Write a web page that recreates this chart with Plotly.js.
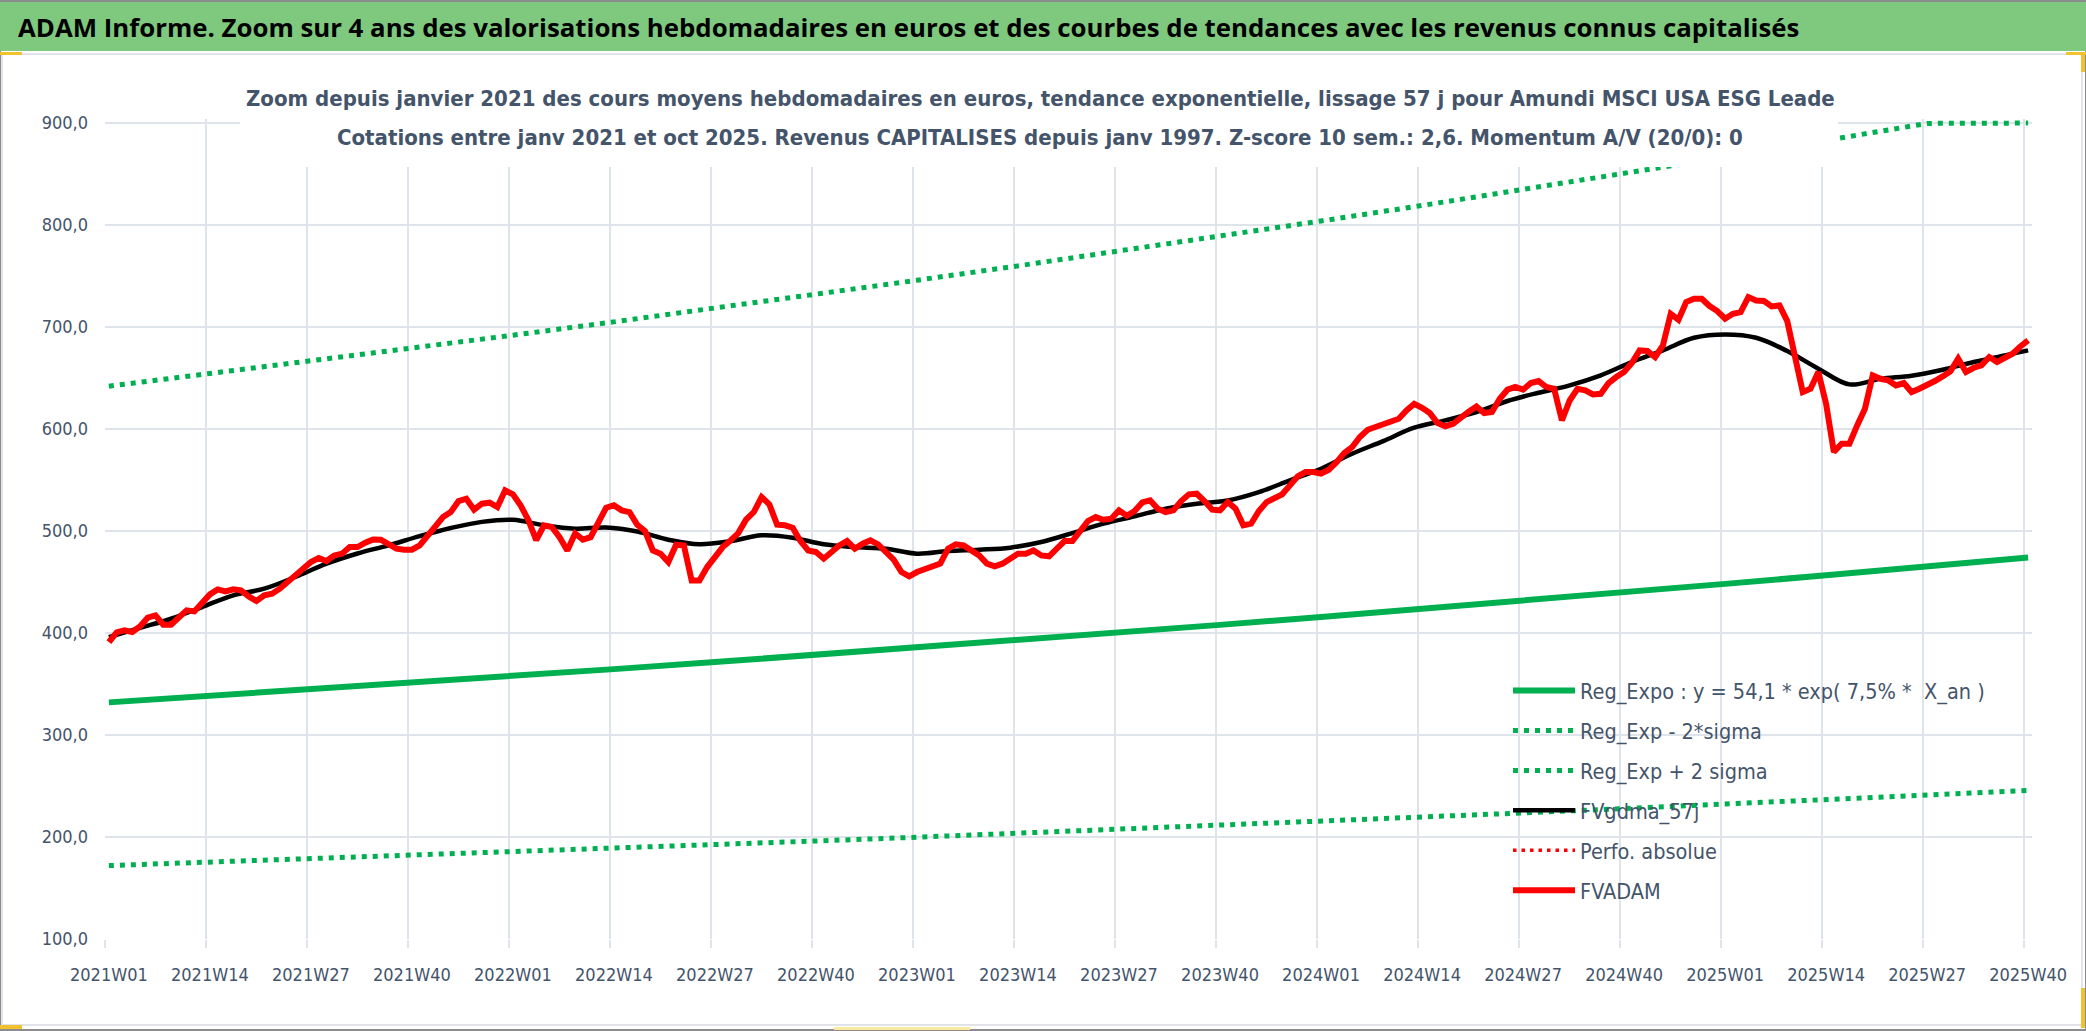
<!DOCTYPE html>
<html>
<head>
<meta charset="utf-8">
<script src="https://cdn.plot.ly/plotly-3.0.1.min.js"></script>
<style>
  html, body { margin: 0; padding: 0; background: #fff; }
  #chart { width: 2086px; height: 1031px; }
</style>
</head>
<body>
<div id="chart"></div>
<script>
// semaines 2021W01 .. 2025W40 (axe de categories)
const years = [2021, 2022, 2023, 2024, 2025];
const lastWeek2025 = 40;
const weeks = [];
years.forEach((y) => {
  const nb = y === 2025 ? lastWeek2025 : 52;
  for (let w = 1; w <= nb; w++) weeks.push(y + "W" + String(w).padStart(2, "0"));
});

// FVADAM : cours moyens hebdo en euros
const fvadam = [
  391, 400.7, 402.6, 401, 406.5, 415, 417.3, 408.2, 408.2, 415.7,
  422.2, 421.2, 430.4, 437.9, 442.8, 440.8, 442.8, 441.8, 435.9, 431.4,
  436.9, 438.6, 443.5, 450, 456.5, 464.7, 469.6, 473.5, 470.6, 476.1,
  477.8, 484.3, 484.3, 488.6, 491.8, 491.5, 487.6, 482.7, 481.7, 481.7,
  485.9, 495.8, 504.6, 513.7, 518.6, 529.4, 531.7, 520.9, 526.8, 527.8,
  523.5, 539.9, 536, 525, 510.5, 491, 505.6, 504, 494, 481,
  497.6, 491.5,
  494, 508.8, 522.9, 525.2, 520.3, 518.6, 506.2, 500,
  481, 477.8, 469.6, 486.6, 485.9, 451.6, 451.6, 464.7, 475.2, 484.3,
  490.8, 498, 511.1, 518.6, 533.3, 526.1, 506.2, 505.6, 503.3, 490.2,
  481, 479.4, 472.9, 479.4, 485.9, 490.2, 482.7, 487.6, 490.8, 486.9,
  479.4, 471.9, 459.8, 455.6, 459.8, 462.7, 464.7, 468, 482.7, 486.9,
  485.9, 480.4, 476.1, 468, 465.4, 468, 472.5, 477.8, 477.8, 481,
  476.1, 475.2, 482.7, 490.2,
  490.2, 500, 509.8, 513.7, 511.1, 512.1,
  520.3, 515, 519.6, 528.1, 530, 521.9, 518.6, 520.3, 529.4, 536,
  536.6, 529.4, 520.9, 520.3, 528.4, 521.9, 505.6, 507.2, 519.6, 528.4,
  531.7, 536, 544.8, 553.6, 557.8, 557.8, 556.2, 560.1, 567.6, 576.5,
  582.4, 592.2, 599.3, 602, 605.9, 607.8, 610.1, 618.3, 624.8, 620.9,
  615.7, 605.9, 602.6, 605.2, 611.8, 617, 622.2, 615.7, 616.7, 629.7,
  638.6, 641.2, 638.6, 645.1, 647.1,
  641.2, 639.5, 608.5, 628, 639.5,
  637.9, 634, 634.6, 645.1, 651, 655.9, 664.7, 677.1, 676.5, 670.6,
  682, 713, 707.2, 724.5, 727.8, 727.8, 720.6, 715.7, 708.2, 713,
  714.7, 729.4, 726.1, 725.5, 720.3, 721.2, 705.9, 673.9, 636.3, 639.5,
  655.9, 624.8, 577.5, 585.6, 585.6, 603.6, 619.9, 652.6, 649.3, 647.7,
  642.8, 645.1, 636.3, 639.5, 642.8, 647.1, 651.6, 656.5, 669, 655.9,
  660.1, 662.4, 670.6, 665.7, 669.9, 673.9, 681, 686.9
];

// FVgdma_57j : lissage, lu toutes les 4 semaines
const gdmaIdx = [0, 4, 8, 12, 16, 20, 24, 28, 32, 36, 40, 44, 48, 52, 56, 60,
  64, 68, 72, 76, 80, 84, 88, 92, 96, 100, 104, 108, 112, 116, 120, 124,
  128, 132, 136, 140, 144, 148, 152, 156, 160, 164, 168, 172, 176, 180, 184,
  188, 192, 196, 200, 204, 208, 212, 216, 220, 224, 228, 232, 236, 240, 244, 247];
const gdmaVal = [396, 405, 414, 425.5, 437, 443.5, 455, 468, 478, 486, 495, 503, 509, 511, 505.6, 502.3,
  503.5, 499.5, 491.5, 487, 490, 495.8, 493.5, 487, 484.3, 482.7, 477.8, 480.4, 481.7, 483.7, 489.2, 498,
  507.2, 514.4, 521.9, 526.8, 530, 538.2, 549.7, 561.1, 575.8, 588.2, 601.3, 608.5, 616.7, 627.5, 635.6,
  642.8, 652.6, 665.7, 677.1, 689.5, 692.8, 689.5, 676.5, 659.2, 643.8, 649.3, 652.3, 658.2, 665.7, 672.2, 677.1];

// tendances exponentielles, lues aux graduations (toutes les 13 semaines)
const trendIdx = [0, 13, 26, 39, 52, 65, 78, 91, 104, 117, 130, 143, 156, 169, 182, 195, 208, 221, 234, 247];
const regExpo = [332, 338.3, 344.7, 351.2, 357.9, 364.6, 371.5, 378.6, 385.7, 393, 400.5, 408, 415.8, 423.6, 431.7, 439.8, 448.2, 456.6, 465.3, 474.1];
const regMoins = [172, 175.3, 178.6, 182, 185.4, 188.9, 192.5, 196.1, 199.8, 203.6, 207.5, 211.4, 215.4, 219.5, 223.6, 227.9, 232.2, 236.6, 241, 245.6];
const regPlus = [642, 654.2, 666.5, 679.1, 692, 705.1, 718.4, 732, 745.9, 760, 774.4, 789.1, 804, 819.2, 834.7, 850.5, 866.6, 883, 899.7, 900];
const perfoAbsolue = [null]; // hors echelle sur ce zoom : legende seule

const yTicks = [100, 200, 300, 400, 500, 600, 700, 800, 900];

const FONT = '"Liberation Sans Narrow", "DejaVu Sans Condensed", "Liberation Sans", sans-serif';
const TXT = "#44546A";
const GREEN = "#00B050";
const GRID = "#DFE3EA";

const W = 2086, H = 1031;
const M = { l: 105, r: 54, t: 119, b: 92 };
const plotW = W - M.l - M.r, plotH = H - M.t - M.b;
const px = (x) => (x - M.l) / plotW;
const py = (y) => (H - M.b - y) / plotH;

const at = (idx) => idx.map((i) => weeks[i]);

var data = [
  { x: at(trendIdx), y: regExpo, type: "scatter", mode: "lines", name: "Reg_Expo : y = 54,1 * exp( 7,5% *  X_an )",
    line: { color: GREEN, width: 6 }, legendgroup: "a" },
  { x: at(trendIdx), y: regMoins, type: "scatter", mode: "lines", name: "Reg_Exp - 2*sigma",
    line: { color: GREEN, width: 5, dash: "5px,6px" }, legendgroup: "b" },
  { x: at(trendIdx), y: regPlus, type: "scatter", mode: "lines", name: "Reg_Exp + 2 sigma",
    line: { color: GREEN, width: 5, dash: "5px,6px" }, legendgroup: "c" },
  { x: at(gdmaIdx), y: gdmaVal, type: "scatter", mode: "lines", name: "FVgdma_57j",
    line: { color: "#000000", width: 4.5, shape: "spline" }, legendgroup: "d" },
  { x: weeks.slice(0, perfoAbsolue.length), y: perfoAbsolue, type: "scatter", mode: "lines", name: "Perfo. absolue",
    line: { color: "#FF0000", width: 3.5, dash: "3.5px,5px" }, legendgroup: "e" },
  { x: weeks, y: fvadam, type: "scatter", mode: "lines", name: "FVADAM",
    line: { color: "#FF0000", width: 6 }, legendgroup: "f" }
];

var shapes = [
  // cadre de la page
  { type: "rect", xref: "paper", yref: "paper", x0: px(0), x1: px(W), y0: py(H - 1), y1: py(1),
    line: { color: "#8C8C8C", width: 2 }, fillcolor: "rgba(0,0,0,0)", layer: "below" },
  // bandeau vert
  { type: "rect", xref: "paper", yref: "paper", x0: px(0), x1: px(W), y0: py(51), y1: py(2),
    line: { width: 0 }, fillcolor: "#7EC97E", layer: "below" },
  // cadre du graphique
  { type: "rect", xref: "paper", yref: "paper", x0: px(2), x1: px(2082), y0: py(1025), y1: py(54),
    line: { color: "#E1E3E8", width: 2 }, fillcolor: "rgba(0,0,0,0)", layer: "below" },
  // poignees jaunes
  { type: "rect", xref: "paper", yref: "paper", x0: px(0), x1: px(22), y0: py(55), y1: py(52),
    line: { width: 0 }, fillcolor: "#F2C12E", layer: "above" },
  { type: "rect", xref: "paper", yref: "paper", x0: px(2066), x1: px(2086), y0: py(55), y1: py(52),
    line: { width: 0 }, fillcolor: "#F2C12E", layer: "above" },
  { type: "rect", xref: "paper", yref: "paper", x0: px(2081), x1: px(2085), y0: py(72), y1: py(52),
    line: { width: 0 }, fillcolor: "#F2C12E", layer: "above" },
  { type: "rect", xref: "paper", yref: "paper", x0: px(2081), x1: px(2085), y0: py(1028), y1: py(988),
    line: { width: 0 }, fillcolor: "#F2C12E", layer: "above" },
  { type: "rect", xref: "paper", yref: "paper", x0: px(0), x1: px(22), y0: py(1029), y1: py(1025),
    line: { width: 0 }, fillcolor: "#F2C12E", layer: "above" },
  { type: "rect", xref: "paper", yref: "paper", x0: px(834), x1: px(970), y0: py(1030), y1: py(1027),
    line: { width: 0 }, fillcolor: "#F7EBA0", layer: "above" },
  // fond blanc du titre du graphique (masque courbes et grille)
  { type: "rect", xref: "paper", yref: "paper", x0: px(240), x1: px(1838), y0: py(167), y1: py(70),
    line: { width: 0 }, fillcolor: "#FFFFFF", layer: "above" }
];

var annotations = [
  { xref: "paper", yref: "paper", x: px(16), y: py(27), xanchor: "left", yanchor: "middle", showarrow: false,
    text: "<b>ADAM Informe. Zoom sur 4 ans des valorisations hebdomadaires en euros et des courbes de tendances avec les revenus connus capitalisés</b>",
    font: { family: '"Open Sans", "Liberation Sans", sans-serif', size: 25.8, color: "#000000" } },
  { xref: "paper", yref: "paper", x: px(1040), y: py(99), xanchor: "center", yanchor: "middle", showarrow: false,
    text: "<b>Zoom depuis janvier 2021 des cours moyens hebdomadaires en euros, tendance exponentielle, lissage 57 j pour Amundi MSCI USA ESG Leade</b>",
    font: { family: FONT, size: 22, color: TXT } },
  { xref: "paper", yref: "paper", x: px(1040), y: py(137), xanchor: "center", yanchor: "middle", showarrow: false,
    text: "<b>Cotations entre janv 2021 et oct 2025. Revenus CAPITALISES depuis janv 1997. Z-score 10 sem.: 2,6. Momentum A/V (20/0): 0</b>",
    font: { family: FONT, size: 22, color: TXT } }
];

var layout = {
  width: W,
  height: H,
  margin: M,
  paper_bgcolor: "#FFFFFF",
  plot_bgcolor: "#FFFFFF",
  separators: ", ",
  showlegend: true,
  legend: {
    x: px(1508), y: py(670), xanchor: "left", yanchor: "top",
    bgcolor: "rgba(0,0,0,0)", borderwidth: 0,
    font: { family: FONT, size: 21.5, color: TXT },
    tracegroupgap: 9, itemwidth: 62, traceorder: "grouped"
  },
  xaxis: {
    type: "category",
    categoryorder: "array",
    categoryarray: weeks,
    range: [-0.5, weeks.length - 0.5],
    tickmode: "linear", tick0: 0, dtick: 13,
    tickson: "boundaries",
    tickangle: 0,
    ticks: "outside", ticklen: 8, tickcolor: GRID, tickwidth: 2,
    showgrid: true, gridcolor: GRID, gridwidth: 2,
    showline: false, zeroline: false,
    tickfont: { family: FONT, size: 18, color: TXT },
    ticklabelstandoff: 23,
    fixedrange: true
  },
  yaxis: {
    range: [100, 904],
    tickvals: yTicks,
    tickformat: ".1f",
    ticks: "", showgrid: true, gridcolor: GRID, gridwidth: 2,
    showline: false, zeroline: false,
    tickfont: { family: FONT, size: 18, color: TXT },
    ticklabelstandoff: 16,
    fixedrange: true
  },
  shapes: shapes,
  annotations: annotations
};

Plotly.newPlot("chart", data, layout, { displayModeBar: false, staticPlot: true });
</script>
</body>
</html>
